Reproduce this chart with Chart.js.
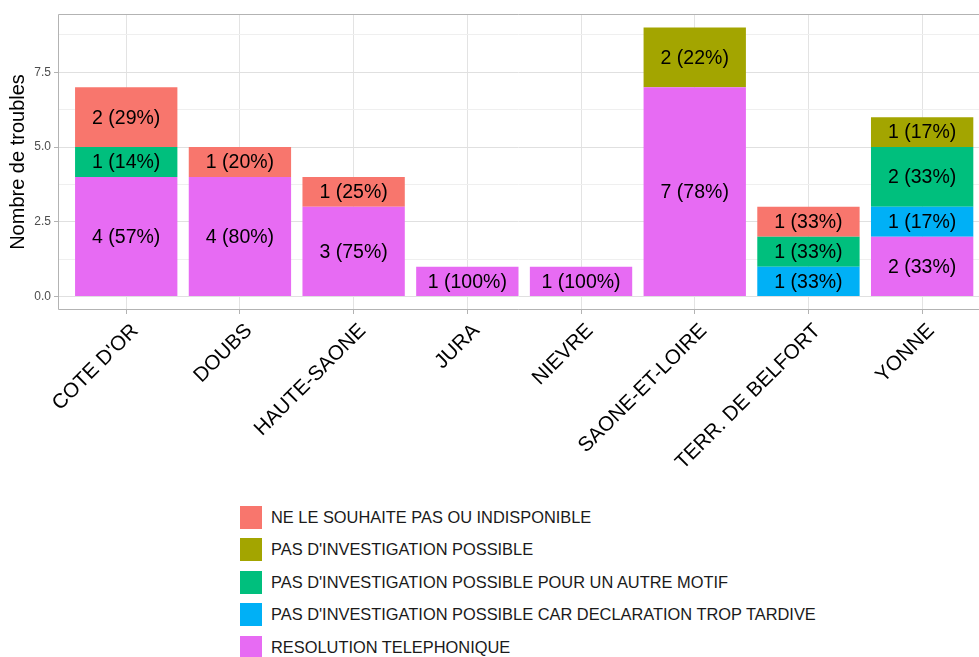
<!DOCTYPE html>
<html>
<head>
<meta charset="utf-8">
<script src="https://cdn.jsdelivr.net/npm/chart.js@4"></script>
<style>
  body { margin: 0; background: #fff; font-family: "Liberation Sans", Arial, sans-serif; }
  #wrap { position: relative; width: 979px; height: 657px; }
  #chart { position: absolute; left: 0; top: 0; }
  #legend { position: absolute; left: 240px; top: 501px; }
  .item { display: flex; align-items: center; height: 32.5px; font-size: 16.4px; color: #1a1a1a; }
  .key { width: 22px; height: 23px; margin-right: 9px; }
</style>
</head>
<body>
<div id="wrap">
  <canvas id="chart" width="979" height="490"></canvas>
  <div id="legend"></div>
</div>
<script>
  // départements (axe X)
  const categories = ["COTE D'OR", 'DOUBS', 'HAUTE-SAONE', 'JURA', 'NIEVRE', 'SAONE-ET-LOIRE', 'TERR. DE BELFORT', 'YONNE'];

  // motifs, dans l'ordre de la légende (le premier est en haut de la pile)
  const motifs = [
    'NE LE SOUHAITE PAS OU INDISPONIBLE',
    "PAS D'INVESTIGATION POSSIBLE",
    "PAS D'INVESTIGATION POSSIBLE POUR UN AUTRE MOTIF",
    "PAS D'INVESTIGATION POSSIBLE CAR DECLARATION TROP TARDIVE",
    'RESOLUTION TELEPHONIQUE'
  ];
  const colors = ['#F8766D', '#A3A500', '#00BF7D', '#00B0F6', '#E76BF3'];

  // nombre de troubles par motif et par département
  const nonSouhaite = [2, 1, 1, 0, 0, 0, 1, 0];
  const pasPossible = [0, 0, 0, 0, 0, 2, 0, 1];
  const autreMotif  = [1, 0, 0, 0, 0, 0, 1, 2];
  const tropTardive = [0, 0, 0, 0, 0, 0, 1, 1];
  const telephone   = [4, 4, 3, 1, 1, 7, 0, 2];
  const series = [nonSouhaite, pasPossible, autreMotif, tropTardive, telephone];

  const yTicks = [0, 2.5, 5, 7.5];

  const totals = categories.map((c, i) => series.reduce((s, arr) => s + arr[i], 0));

  // Chart.js empile dans l'ordre des datasets : on inverse pour avoir le premier motif en haut
  const datasets = [];
  for (let k = series.length - 1; k >= 0; k--) {
    datasets.push({
      label: motifs[k],
      data: series[k].map((v, i) => ({ x: i, y: v })),
      backgroundColor: colors[k],
      borderWidth: 0,
      categoryPercentage: 1,
      barPercentage: 0.9
    });
  }

  const FONT = '"Liberation Sans", Arial, sans-serif';

  // étiquettes "n (p%)" au centre de chaque segment
  const labelsPlugin = {
    id: 'segLabels',
    afterDatasetsDraw(chart) {
      const ctx = chart.ctx;
      ctx.save();
      ctx.font = '19.5px ' + FONT;
      ctx.fillStyle = '#000';
      ctx.textAlign = 'center';
      ctx.textBaseline = 'middle';
      chart.data.datasets.forEach((ds, d) => {
        chart.getDatasetMeta(d).data.forEach((bar, i) => {
          const v = ds.data[i].y;
          if (!v) return;
          const p = bar.getProps(['x', 'y', 'base'], true);
          const pct = Math.round(v / totals[i] * 100);
          ctx.fillText(v + ' (' + pct + '%)', p.x, (p.y + p.base) / 2 + 1);
        });
      });
      ctx.restore();
    }
  };

  // cadre du panneau (style ggplot theme_light)
  const borderPlugin = {
    id: 'panelBorder',
    afterDraw(chart) {
      const a = chart.chartArea;
      const ctx = chart.ctx;
      ctx.save();
      ctx.strokeStyle = '#b3b3b3';
      ctx.lineWidth = 1;
      ctx.beginPath();
      ctx.moveTo(chart.width, a.top + 0.5);
      ctx.lineTo(a.left + 0.5, a.top + 0.5);
      ctx.lineTo(a.left + 0.5, a.bottom - 0.5);
      ctx.lineTo(chart.width, a.bottom - 0.5);
      ctx.stroke();
      ctx.restore();
    }
  };

  new Chart(document.getElementById('chart'), {
    type: 'bar',
    data: { datasets: datasets },
    plugins: [labelsPlugin, borderPlugin],
    options: {
      responsive: false,
      animation: false,
      layout: { padding: { top: 14, right: 0, left: 0, bottom: 0 } },
      plugins: { legend: { display: false }, tooltip: { enabled: false } },
      scales: {
        x: {
          type: 'linear',
          stacked: true,
          offset: false,
          min: -0.6,
          max: 7.5,
          afterFit: s => { s.height = 180; },
          border: { display: false },
          grid: { offset: false, color: '#e3e3e3', lineWidth: 1, tickLength: 4, tickColor: '#b3b3b3' },
          ticks: {
            stepSize: 1,
            includeBounds: false,
            autoSkip: false,
            minRotation: 45,
            maxRotation: 45,
            padding: 5,
            labelOffset: 9,
            color: '#000',
            font: { family: FONT, size: 20.5 },
            callback: v => categories[v] || ''
          }
        },
        y: {
          stacked: true,
          min: -0.45,
          max: 9.45,
          afterFit: s => { s.width = 58; },
          border: { display: false },
          grid: {
            color: c => yTicks.includes(c.tick.value) ? '#e0e0e0' : '#efefef',
            tickLength: 4,
            tickColor: c => yTicks.includes(c.tick.value) ? '#b3b3b3' : 'rgba(0,0,0,0)'
          },
          title: {
            display: true,
            text: 'Nombre de troubles',
            color: '#000',
            font: { family: FONT, size: 20 },
            padding: { top: 6, bottom: 0 }
          },
          ticks: {
            stepSize: 1.25,
            includeBounds: false,
            padding: 3,
            color: '#4d4d4d',
            font: { family: FONT, size: 12 },
            callback: v => yTicks.includes(v) ? v.toFixed(1) : ''
          }
        }
      }
    }
  });

  // légende verticale sous le graphique
  const legend = document.getElementById('legend');
  motifs.forEach((m, k) => {
    const row = document.createElement('div');
    row.className = 'item';
    const key = document.createElement('span');
    key.className = 'key';
    key.style.background = colors[k];
    const txt = document.createElement('span');
    txt.textContent = m;
    row.appendChild(key);
    row.appendChild(txt);
    legend.appendChild(row);
  });
</script>
</body>
</html>
